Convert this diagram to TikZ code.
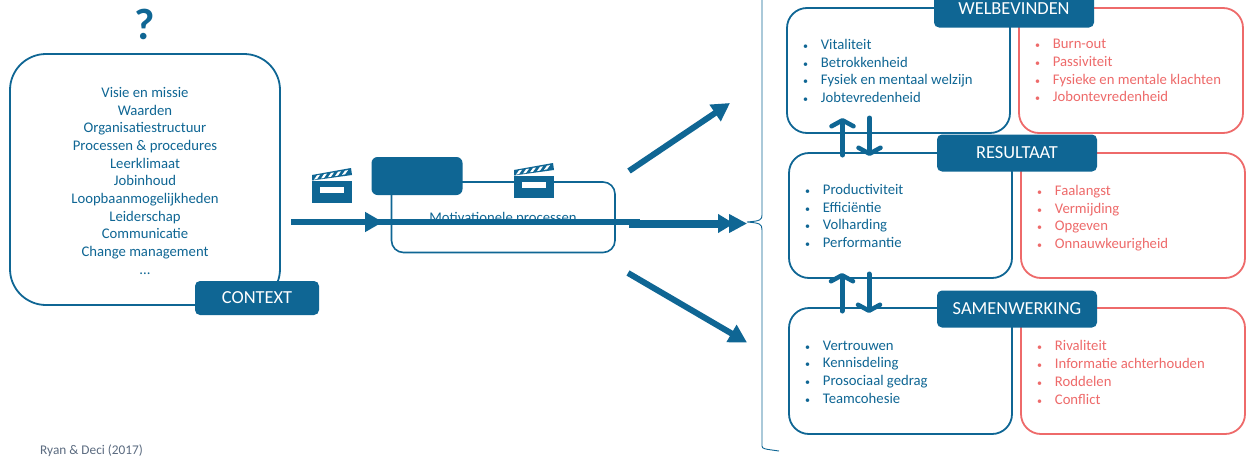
\documentclass[tikz,border=0pt]{standalone}
\usepackage{fontspec}
\setmainfont{Carlito}
\usetikzlibrary{arrows.meta}
\definecolor{blu}{HTML}{0F6694}
\definecolor{rd}{HTML}{EE6A6A}
\definecolor{grayblue}{HTML}{5B6B80}
\tikzset{
  x=1pt,y=-1pt,
  box/.style={draw=blu,line width=1.8pt,rounded corners=20pt,fill=white},
  rbox/.style={draw=rd,line width=1.8pt,rounded corners=20pt,fill=white},
  tag/.style={fill=blu,rounded corners=5pt,text=white,font=\fontsize{18.4}{18}\selectfont,inner sep=0pt,anchor=center},
  txt/.style={text=blu,font=\fontsize{14.7}{17.7}\selectfont,align=left,anchor=north west,inner sep=0pt},
  rtxt/.style={text=rd,font=\fontsize{14.7}{17.7}\selectfont,align=left,anchor=north west,inner sep=0pt},
  bigarrow/.style={draw=blu,line width=6pt,-{Triangle[length=18pt,width=19pt]}},
  updown/.style={draw=blu,line width=5pt,line cap=round,-{Straight Barb[length=6pt,width=22pt,line width=4.5pt,round]}},
}
\newcommand{\bu}{\makebox[17.7pt][l]{\fontsize{10}{10}\selectfont•}}
\newcommand{\clapper}[2]{%
  \begin{scope}[shift={(#1,#2)}]
    \fill[blu] (0,7) rectangle (40,29);
    \fill[white] (8,13) rectangle (32,19);
    \fill[blu] (0,1) -- (39,-6) -- (40,1) -- (0,6.5) -- cycle;
    \foreach \d in {5,12,19,26,33}{\fill[white] (\d,2.2-\d*0.17) -- (\d+3,1.7-\d*0.17) -- (\d,6-\d*0.17) -- (\d-3,6.5-\d*0.17) -- cycle;}
  \end{scope}}
\begin{document}
\begin{tikzpicture}
\useasboundingbox (0,0) rectangle (1249,458);
\fill[white] (0,0) rectangle (1249,458);
\node[text=blu,font=\fontsize{44}{44}\selectfont\bfseries,inner sep=0pt] (q) at (145,24) {?};
\draw[box,rounded corners=36pt] (10,54) rectangle (280,305);
\node[text=blu,font=\fontsize{14.7}{17.7}\selectfont,align=center,inner sep=0pt,anchor=north] (ctx) at (145,87) {Visie en missie\\Waarden\\Organisatiestructuur\\Processen \& procedures\\Leerklimaat\\Jobinhoud\\Loopbaanmogelijkheden\\Leiderschap\\Communicatie\\Change management\\...};
\node[tag,minimum width=124pt,minimum height=34pt] (context) at (257,298) {\raisebox{-1pt}{CONTEXT}};
\node[text=grayblue,font=\fontsize{13.3}{13}\selectfont,anchor=west,inner sep=0pt] (ref) at (40,451) {Ryan \& Deci (2017)};
% motivational
\draw[draw=blu,line width=1.6pt,rounded corners=12pt] (391.5,182) rectangle (615,252.5);
\node[text=blu,font=\fontsize{14.7}{17}\selectfont,inner sep=0pt] (mot) at (503,219) {Motivationele processen};
\node[fill=blu,rounded corners=6pt,minimum width=91pt,minimum height=38pt,inner sep=0pt] (hd) at (417,176) {};
\clapper{312}{174}
\clapper{514}{169}
\coordinate (a0) at (291,222); \coordinate (a1) at (383,222);
\coordinate (b0) at (303,222); \coordinate (b1) at (640,222);
\coordinate (e0) at (629,223.5); \coordinate (e1) at (734,223.5);
\coordinate (f0) at (720,223.5); \coordinate (f1) at (747,223.5);
\coordinate (c0) at (629,171); \coordinate (c1) at (730,103);
\coordinate (d0) at (628,273); \coordinate (d1) at (747,342.5);
\draw[draw=blu,line width=6pt] (b0) -- (b1);
\draw[bigarrow,line width=6pt] (a0) -- (a1);
\draw[bigarrow,line width=8pt,-{Triangle[length=16pt,width=18pt]}] (e0) -- (e1);
\draw[bigarrow,line width=4pt,-{Triangle[length=18pt,width=18pt]}] (f0) -- (f1);
\draw[bigarrow] (c0) -- (c1);
\draw[bigarrow] (d0) -- (d1);
% bracket
\draw[draw=blu,line width=.9pt] (762,-5) -- (762,215) .. controls (762,220) and (760,221) .. (747,222) .. controls (760,223) and (762,224) .. (762,230) -- (762,446) .. controls (762,449) and (765,449) .. (779,451);
% boxes
\draw[box] (787,8) rectangle (1010,133);
\draw[rbox] (1019,8) rectangle (1243,133);
\draw[box] (789,153) rectangle (1012,278);
\draw[rbox] (1021,153) rectangle (1245,278);
\draw[box] (789,308) rectangle (1012,434);
\draw[rbox] (1021,308) rectangle (1245,434);
\node[tag,minimum width=160pt,minimum height=37pt] (w) at (1014,9) {\raisebox{-2pt}{WELBEVINDEN}};
\node[tag,minimum width=160pt,minimum height=37pt] (r) at (1017,153) {\raisebox{-2pt}{RESULTAAT}};
\node[tag,minimum width=160pt,minimum height=37pt] (s) at (1017,309) {\raisebox{-1pt}{SAMENWERKING}};
% lists
\node[txt] (l1) at (803,39) {\bu Vitaliteit\\\bu Betrokkenheid\\\bu Fysiek en mentaal welzijn\\\bu Jobtevredenheid};
\node[rtxt] (l2) at (1035,39) {\bu Burn-out\\\bu Passiviteit\\\bu Fysieke en mentale klachten\\\bu Jobontevredenheid};
\node[txt] (l3) at (805,184) {\bu Productiviteit\\\bu Efficiëntie\\\bu Volharding\\\bu Performantie};
\node[rtxt] (l4) at (1037,185) {\bu Faalangst\\\bu Vermijding\\\bu Opgeven\\\bu Onnauwkeurigheid};
\node[txt] (l5) at (805,340.5) {\bu Vertrouwen\\\bu Kennisdeling\\\bu Prosociaal gedrag\\\bu Teamcohesie};
\node[rtxt] (l6) at (1037,340.5) {\bu Rivaliteit\\\bu Informatie achterhouden\\\bu Roddelen\\\bu Conflict};
% up-down
\coordinate (u1a) at (842.5,155); \coordinate (u1b) at (842.5,118);
\coordinate (d1a) at (869.5,118); \coordinate (d1b) at (869.5,156);
\coordinate (u2a) at (842,311); \coordinate (u2b) at (842,273);
\coordinate (d2a) at (869,274); \coordinate (d2b) at (869,313);
\draw[updown] (u1a) -- (u1b);
\draw[updown] (d1a) -- (d1b);
\draw[updown] (u2a) -- (u2b);
\draw[updown] (d2a) -- (d2b);
\end{tikzpicture}
\end{document}
